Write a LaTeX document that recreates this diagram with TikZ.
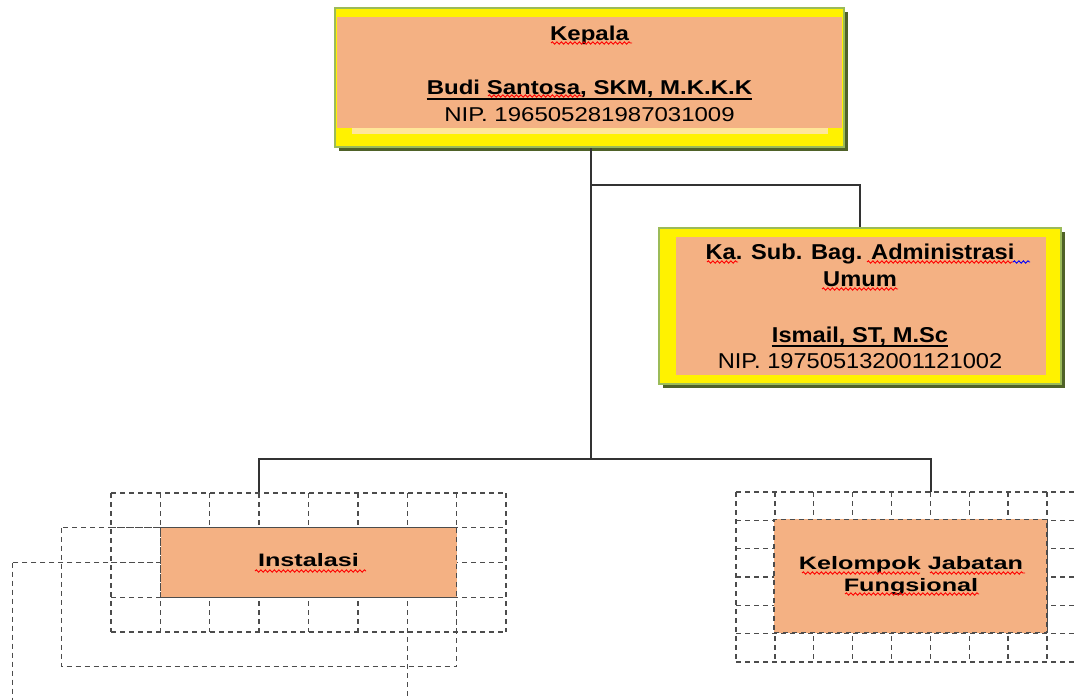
\documentclass[tikz,border=0pt]{standalone}
\usepackage{fontspec}
\setmainfont{Liberation Sans}
\newfontfamily\fa[FakeStretch=1.2]{Liberation Sans}
\newfontfamily\fb[FakeStretch=1.1]{Liberation Sans}
\newfontfamily\fc[FakeStretch=1.4]{Liberation Sans}
\usetikzlibrary{decorations.pathmorphing}
\definecolor{boxorange}{HTML}{F4B183}
\definecolor{framegreen}{HTML}{9BBB59}
\definecolor{shadowgreen}{HTML}{4F6228}
\definecolor{paleband}{HTML}{FFE699}
\begin{document}
\begin{tikzpicture}[x=1pt,y=-1pt,
  conn/.style={draw=black!80,line width=1.2pt},
  gridln/.style={draw=black!70,line width=1.4pt,dash pattern=on 5pt off 4pt},
  frame/.style={draw=framegreen,line width=2pt,fill=yellow,inner sep=0pt},
  shade/.style={fill=shadowgreen,draw=none},
  orangebox/.style={fill=boxorange,draw=none,inner sep=0pt},
  txt/.style={inner sep=0pt,anchor=base,text=black},
  fA/.style={font=\fa\fontsize{20}{24}\selectfont},
  fAb/.style={font=\fa\bfseries\fontsize{20}{24}\selectfont},
  fBb/.style={font=\fb\bfseries\fontsize{21.5}{25}\selectfont},
  fB/.style={font=\fb\fontsize{21.5}{25}\selectfont},
  fCb/.style={font=\fc\bfseries\fontsize{18}{22}\selectfont},
  squig/.style={draw=red,line width=0.9pt,decorate,decoration={snake,segment length=4.5pt,amplitude=1.2pt}},
  uline/.style={draw=black,line width=1.6pt}]
\useasboundingbox (0,0) rectangle (1078,699);
\clip (0,0) rectangle (1078,699);

% ---------- top box (Kepala)
\fill[shade] (339,12) rectangle (848,151);
\node[frame,minimum width=509pt,minimum height=139pt] (kepala) at (589.5,77.5) {};
\fill[boxorange] (337,17) rectangle (842,128);
\fill[paleband] (352,128) rectangle (828,134);

% ---------- second box (Ka. Sub. Bag.)
\fill[shade] (663,232) rectangle (1065,388);
\node[frame,minimum width=402pt,minimum height=156pt] (kasub) at (860,306) {};
\fill[boxorange] (676,237) rectangle (1046,375);

% ---------- connectors
\coordinate (j1) at (591,185);
\coordinate (j2) at (591,459);
\coordinate (a1) at (259,493);
\coordinate (b1) at (931,492);
\draw[conn] (kepala.south -| j1) -- (j2);
\draw[conn] (j1) -| (kasub.north);
\draw[conn] (a1) |- (j2) -| (b1);

% ---------- left dashed grids
\draw[gridln] (12.25,562.5) rectangle (407.25,701.5);
\draw[gridln] (61.6,527.75) rectangle (456.6,666.75);
\foreach \i in {0,...,8}
  \draw[gridln] ({111+49.375*\i},493) -- ({111+49.375*\i},632);
\foreach \j in {0,...,4}
  \draw[gridln] (111,{493+34.75*\j}) -- (506,{493+34.75*\j});
\node[orangebox,gridln,fill=boxorange,minimum width=296pt,minimum height=69.5pt] (inst) at (308.5,562.5) {};

% ---------- right dashed grid
\foreach \i in {0,...,9}
  \draw[gridln] ({736+38.875*\i},492) -- ({736+38.875*\i},662);
\foreach \j in {0,...,6}
  \draw[gridln] (736,{492+28.333*\j}) -- (1095,{492+28.333*\j});
\node[orangebox,gridln,fill=boxorange,minimum width=273pt,minimum height=113.5pt] (jf) at (910.5,576) {};

% ---------- texts
\node[txt,fAb] (t1) at (589.5,40) {Kepala};
\node[txt,fAb] (t2) at (589.5,94) {Budi Santosa, SKM, M.K.K.K};
\draw[uline] ([yshift=-5pt]t2.base west) -- ([yshift=-5pt]t2.base east);
\node[txt,fA] (t3) at (589.5,121) {NIP. 196505281987031009};

\node[txt,fBb] (s1) at (860,259) {Ka. Sub. Bag. Administrasi};
\node[txt,fBb] (s2) at (860,286) {Umum};
\node[txt,fBb] (s3) at (860,342) {Ismail, ST, M.Sc};
\draw[uline] ([yshift=-4pt]s3.base west) -- ([yshift=-4pt]s3.base east);
\node[txt,fB] (s4) at (860,368) {NIP. 197505132001121002};

\node[txt,fCb] (i1) at (308.5,566) {Instalasi};
\node[txt,fCb] (k1) at (911,569) {Kelompok Jabatan};
\node[txt,fCb] (k2) at (911,591) {Fungsional};

% ---------- spelling squiggles
\draw[squig] (551,43) -- (632,43);
\draw[squig] (488,96) -- (583,96);
\draw[squig] (707,262) -- (738,262);
\draw[squig] (867,262) -- (1013,262);
\draw[squig,draw=blue] (1013,262) -- (1030,262);
\draw[squig] (822,289) -- (898,289);
\draw[squig] (255,571) -- (366,571);
\draw[squig] (802,573) -- (920,573);
\draw[squig] (930,573) -- (1025,573);
\draw[squig] (845,594) -- (979,594);
\end{tikzpicture}
\end{document}
